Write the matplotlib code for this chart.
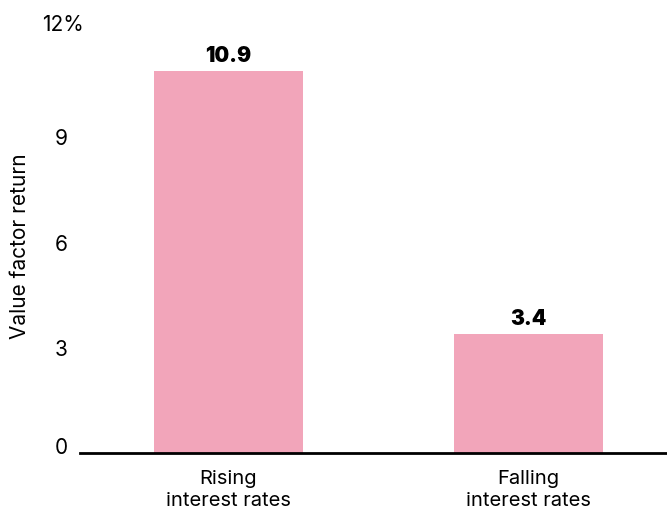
import matplotlib
matplotlib.use("Agg")
import matplotlib.pyplot as plt
from matplotlib.transforms import offset_copy

categories = ["Rising\ninterest rates", "Falling\ninterest rates"]
values = [10.9, 3.4]
value_labels = ["10.9", "3.4"]
yticks = [0, 3, 6, 9, 12]
ytick_labels = ["0", "3", "6", "9", ""]

plt.rcParams['font.family'] = ['Inter', 'DejaVu Sans']

fig = plt.figure(figsize=(6.67, 5.11), dpi=100)
ax = fig.add_axes([0.12, 0.1135, 0.88, 0.8235])

x = range(len(values))
ax.bar(x, values, width=0.497, color="#F2A5BA")
for xi, v, lab in zip(x, values, value_labels):
    ax.text(xi, v + 0.15, lab, ha="center", va="bottom", fontsize=15, fontweight="black")

ax.set_xlim(-0.495, 1.462)
ax.set_ylim(0, 12)
ax.set_xticks(list(x))
ax.set_xticklabels(categories, fontsize=14.5, linespacing=1.3)
ax.set_yticks(yticks)
ax.set_yticklabels(ytick_labels, fontsize=15)
ax.tick_params(axis="x", length=0, pad=12)
ax.tick_params(axis="y", length=0, pad=9)

# bottom label sits a little above the axis line
lab0 = ax.get_yticklabels()[0]
lab0.set_transform(offset_copy(lab0.get_transform(), fig=fig, x=0, y=7, units="dots"))

# top label with percent sign
ax.annotate("12%", xy=(0, 12), xycoords=("axes fraction", "data"),
            xytext=(-38, 7), textcoords="offset pixels",
            ha="left", va="center", fontsize=15)

for s in ["top", "right", "left"]:
    ax.spines[s].set_visible(False)
ax.spines["bottom"].set_linewidth(2)
fig.text(0.03, 0.519, "Value factor return", rotation=90, ha="center", va="center", fontsize=15)

fig.savefig("out.png", dpi=100)
